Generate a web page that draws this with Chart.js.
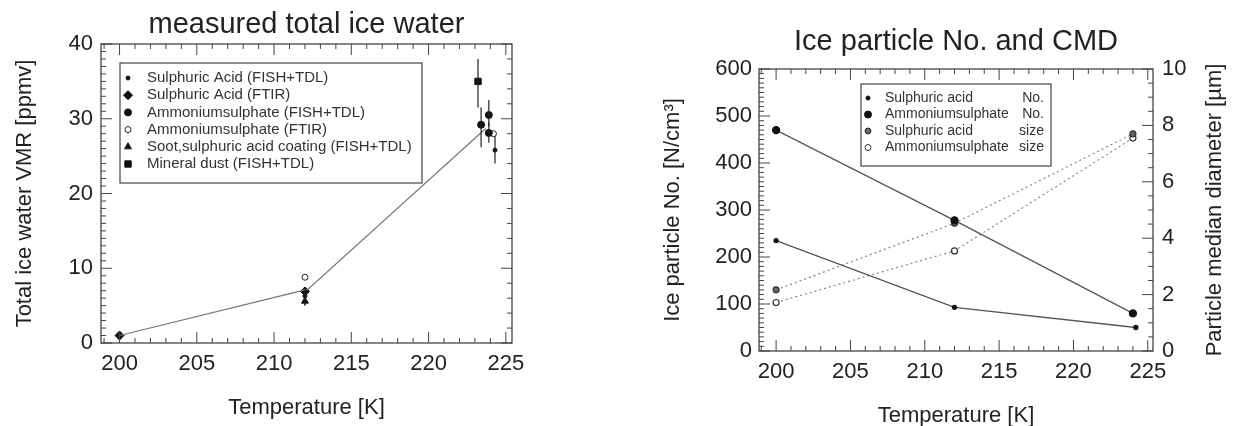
<!DOCTYPE html>
<html>
<head>
<meta charset="utf-8">
<script src="https://cdn.jsdelivr.net/npm/chart.js@4.4.1/dist/chart.umd.min.js"></script>
<style>
  html,body{margin:0;padding:0;background:#fff;}
  .pane{position:absolute;top:0;}
</style>
</head>
<body>
<div class="pane" style="left:0"><canvas id="ch-iwc" width="600" height="426"></canvas></div>
<div class="pane" style="left:600px"><canvas id="ch-num" width="651" height="426"></canvas></div>
<script>
// ===================== DATOS: agua total de hielo =====================
const tickT=[200,205,210,215,220,225];
const tickIwc=[0,10,20,30,40];

const fitT=[200,212.2,223.7];
const fitIwc=[1.0,7.2,28.7];

const saFishT=[200,212,224.3];
const saFishV=[0.8,6.3,25.8];
const saFishLo=[null,5.1,24.0];
const saFishHi=[null,7.4,27.7];

const saFtirT=[200,212];
const saFtirV=[1.0,6.9];

const asFishT=[223.4,223.9,223.9];
const asFishV=[29.2,30.5,28.1];
const asFishLo=[26.2,29.0,26.8];
const asFishHi=[31.5,32.5,29.5];

const asFtirT=[212,224.2];
const asFtirV=[8.8,28.0];

const sootT=[212];
const sootV=[5.6];
const sootLo=[5.0];
const sootHi=[6.4];

const dustT=[223.2];
const dustV=[35.0];
const dustLo=[31.5];
const dustHi=[38.0];

// ===================== DATOS: número y CMD =====================
const tickNo=[0,100,200,300,400,500,600];
const tickCmd=[0,2,4,6,8,10];

const saNoT=[200,212,224.2];
const saNo=[235,93,50];
const asNoT=[200,212,224];
const asNo=[470,278,80];
const sizeT=[200,212,224];
const saSize=[2.17,4.53,7.7];
const asSize=[1.72,3.55,7.55];

const pts=(xs,ys)=>xs.map((x,i)=>({x,y:ys[i]}));

const FAM='"Liberation Sans", Arial, Helvetica, sans-serif';
Chart.defaults.font.family=FAM;
Chart.defaults.color='#222';

// ── título centrado sobre el área del gráfico ──
const topTitle={
  id:'topTitle',
  afterDraw(chart,args,o){
    const {ctx,chartArea:a}=chart;
    ctx.save();
    ctx.font=o.size+'px '+FAM;
    ctx.fillStyle='#222'; ctx.textAlign='center'; ctx.textBaseline='alphabetic';
    ctx.fillText(o.text,(a.left+a.right)/2,o.base);
    ctx.restore();
  }
};

// ── marco con marcas hacia dentro en los cuatro lados ──
const axisFrame={
  id:'axisFrame',
  afterDraw(chart,args,o){
    const {ctx,chartArea:a}=chart;
    ctx.save();
    ctx.strokeStyle='#444'; ctx.lineWidth=1.3;
    ctx.strokeRect(a.left,a.top,a.width,a.height);
    ctx.lineWidth=1;
    o.sides.forEach(sd=>{
      const sc=chart.scales[sd.scale];
      const i0=Math.ceil(sc.min/sd.minor-1e-6), i1=Math.floor(sc.max/sd.minor+1e-6);
      for(let i=i0;i<=i1;i++){
        const v=i*sd.minor;
        const big=sd.major.some(m=>Math.abs(m-v)<1e-6);
        const len=big?11:5;
        const p=sc.getPixelForValue(v);
        ctx.beginPath();
        if(sd.side==='bottom'){ctx.moveTo(p,a.bottom);ctx.lineTo(p,a.bottom-len);}
        else if(sd.side==='top'){ctx.moveTo(p,a.top);ctx.lineTo(p,a.top+len);}
        else if(sd.side==='left'){ctx.moveTo(a.left,p);ctx.lineTo(a.left+len,p);}
        else {ctx.moveTo(a.right,p);ctx.lineTo(a.right-len,p);}
        ctx.stroke();
      }
    });
    ctx.restore();
  }
};

// ── barras de error verticales ──
const errBars={
  id:'errBars',
  afterDatasetsDraw(chart){
    const ctx=chart.ctx;
    ctx.save();
    ctx.strokeStyle='#222'; ctx.lineWidth=1.2;
    chart.data.datasets.forEach((ds,di)=>{
      if(!ds.errLo) return;
      const meta=chart.getDatasetMeta(di);
      const ys=chart.scales[meta.yAxisID];
      ds.data.forEach((d,i)=>{
        if(ds.errLo[i]==null) return;
        const px=chart.scales.x.getPixelForValue(d.x);
        ctx.beginPath();
        ctx.moveTo(px,ys.getPixelForValue(ds.errLo[i]));
        ctx.lineTo(px,ys.getPixelForValue(ds.errHi[i]));
        ctx.stroke();
      });
    });
    ctx.restore();
  }
};

// ── leyenda dentro del área, con recuadro ──
const keyBox={
  id:'keyBox',
  afterDraw(chart,args,o){
    const ctx=chart.ctx;
    ctx.save();
    ctx.strokeStyle='#444'; ctx.lineWidth=1.2;
    ctx.strokeRect(o.box[0],o.box[1],o.box[2]-o.box[0],o.box[3]-o.box[1]);
    ctx.font=o.size+'px '+FAM;
    ctx.textBaseline='middle';
    let row=0;
    chart.data.datasets.forEach(ds=>{
      if(ds.noKey) return;
      const y=o.y0+row*o.dy;
      ctx.fillStyle=ds.backgroundColor; ctx.strokeStyle=ds.pointBorderColor||ds.borderColor; ctx.lineWidth=1;
      Chart.helpers.drawPoint(ctx,{pointStyle:ds.pointStyle,radius:ds.pointRadius,rotation:0,borderWidth:1},o.markX,y);
      ctx.fillStyle='#333';
      ctx.textAlign='left';
      ctx.fillText(ds.label,o.textX,y);
      if(ds.tag){ctx.textAlign='right';ctx.fillText(ds.tag,o.tagX,y);}
      row++;
    });
    ctx.restore();
  }
};

// ── título del eje derecho, leído de abajo hacia arriba ──
const sideTitle={
  id:'sideTitle',
  afterDraw(chart,args,o){
    if(!o.text) return;
    const {ctx,chartArea:a}=chart;
    ctx.save();
    ctx.translate(a.right+o.dx,(a.top+a.bottom)/2);
    ctx.rotate(-Math.PI/2);
    ctx.font=o.size+'px '+FAM;
    ctx.fillStyle='#222'; ctx.textAlign='center'; ctx.textBaseline='middle';
    ctx.fillText(o.text,0,0);
    ctx.restore();
  }
};

const tickFont={size:22};
const axisTitleFont={size:22};

// ===================== GRÁFICO 1 =====================
new Chart(document.getElementById('ch-iwc'),{
  type:'scatter',
  data:{datasets:[
    {label:'fit',noKey:true,data:pts(fitT,fitIwc),showLine:true,borderColor:'#777',borderWidth:1.2,pointRadius:0},
    {label:'Sulphuric Acid (FISH+TDL)',data:pts(saFishT,saFishV),errLo:saFishLo,errHi:saFishHi,pointStyle:'circle',pointRadius:2,backgroundColor:'#111',borderColor:'#111'},
    {label:'Sulphuric Acid (FTIR)',data:pts(saFtirT,saFtirV),pointStyle:'rectRot',pointRadius:4.5,backgroundColor:'#111',borderColor:'#111'},
    {label:'Ammoniumsulphate (FISH+TDL)',data:pts(asFishT,asFishV),errLo:asFishLo,errHi:asFishHi,pointStyle:'circle',pointRadius:3.5,backgroundColor:'#111',borderColor:'#111'},
    {label:'Ammoniumsulphate (FTIR)',data:pts(asFtirT,asFtirV),pointStyle:'circle',pointRadius:3,backgroundColor:'#fff',borderColor:'#222'},
    {label:'Soot,sulphuric acid coating (FISH+TDL)',data:pts(sootT,sootV),errLo:sootLo,errHi:sootHi,pointStyle:'triangle',pointRadius:4,backgroundColor:'#111',borderColor:'#111'},
    {label:'Mineral dust (FISH+TDL)',data:pts(dustT,dustV),errLo:dustLo,errHi:dustHi,pointStyle:'rect',pointRadius:4.5,backgroundColor:'#111',borderColor:'#111'}
  ]},
  options:{
    responsive:false,animation:false,
    layout:{padding:{left:0,right:88,top:44,bottom:0}},
    plugins:{
      legend:{display:false},tooltip:{enabled:false},title:{display:false},
      topTitle:{text:'measured total ice water',size:29,base:33},
      axisFrame:{sides:[
        {scale:'x',side:'bottom',major:tickT,minor:1},
        {scale:'x',side:'top',major:tickT,minor:1},
        {scale:'y',side:'left',major:tickIwc,minor:1},
        {scale:'y',side:'right',major:tickIwc,minor:2}
      ]},
      keyBox:{box:[120,63,422,183],y0:78,dy:17.2,markX:128,textX:147,size:15}
    },
    scales:{
      x:{type:'linear',min:198.8,max:225.4,
        afterFit:s=>{s.height=83;},
        afterBuildTicks:s=>{s.ticks=tickT.map(v=>({value:v}));},
        grid:{display:false,drawTicks:false},border:{display:false},
        ticks:{font:tickFont,padding:8,maxRotation:0},
        title:{display:true,text:'Temperature [K]',font:axisTitleFont,padding:{bottom:5}}},
      y:{type:'linear',min:0,max:40,
        afterFit:s=>{s.width=101;},
        afterBuildTicks:s=>{s.ticks=tickIwc.map(v=>({value:v}));},
        grid:{display:false,drawTicks:false},border:{display:false},
        ticks:{font:tickFont,padding:8},
        title:{display:true,text:'Total ice water VMR [ppmv]',font:axisTitleFont,padding:{top:12}}}
    }
  },
  plugins:[topTitle,axisFrame,errBars,keyBox]
});

// ===================== GRÁFICO 2 =====================
new Chart(document.getElementById('ch-num'),{
  type:'scatter',
  data:{datasets:[
    {label:'Sulphuric acid',tag:'No.',data:pts(saNoT,saNo),showLine:true,borderColor:'#555',borderWidth:1.3,pointStyle:'circle',pointRadius:2,backgroundColor:'#111',pointBorderColor:'#111',yAxisID:'y'},
    {label:'Ammoniumsulphate',tag:'No.',data:pts(asNoT,asNo),showLine:true,borderColor:'#555',borderWidth:1.3,pointStyle:'circle',pointRadius:3.5,backgroundColor:'#111',pointBorderColor:'#111',yAxisID:'y'},
    {label:'Sulphuric acid',tag:'size',data:pts(sizeT,saSize),showLine:true,borderColor:'#888',borderWidth:1.2,borderDash:[2,3],pointStyle:'circle',pointRadius:3,backgroundColor:'#666',pointBorderColor:'#333',yAxisID:'y2'},
    {label:'Ammoniumsulphate',tag:'size',data:pts(sizeT,asSize),showLine:true,borderColor:'#888',borderWidth:1.2,borderDash:[2,3],pointStyle:'circle',pointRadius:3,backgroundColor:'#fff',pointBorderColor:'#333',yAxisID:'y2'}
  ]},
  options:{
    responsive:false,animation:false,
    layout:{padding:{left:0,right:0,top:69,bottom:0}},
    plugins:{
      legend:{display:false},tooltip:{enabled:false},title:{display:false},
      topTitle:{text:'Ice particle No. and CMD',size:29,base:50},
      axisFrame:{sides:[
        {scale:'x',side:'bottom',major:tickT,minor:1},
        {scale:'x',side:'top',major:tickT,minor:1},
        {scale:'y',side:'left',major:tickNo,minor:10},
        {scale:'y2',side:'right',major:tickCmd,minor:0.5}
      ]},
      keyBox:{box:[261,84,451,166],y0:98,dy:16.5,markX:268,textX:285,tagX:444,size:14},
      sideTitle:{text:'Particle median diameter [µm]',dx:62,size:22}
    },
    scales:{
      x:{type:'linear',min:198.85,max:225.35,
        afterFit:s=>{s.height=75;},
        afterBuildTicks:s=>{s.ticks=tickT.map(v=>({value:v}));},
        grid:{display:false,drawTicks:false},border:{display:false},
        ticks:{font:tickFont,padding:8,maxRotation:0},
        title:{display:true,text:'Temperature [K]',font:axisTitleFont,padding:{bottom:-3}}},
      y:{type:'linear',position:'left',min:0,max:600,
        afterFit:s=>{s.width=159;},
        afterBuildTicks:s=>{s.ticks=tickNo.map(v=>({value:v}));},
        grid:{display:false,drawTicks:false},border:{display:false},
        ticks:{font:tickFont,padding:7},
        title:{display:true,text:'Ice particle No. [N/cm³]',font:axisTitleFont,padding:{top:60}}},
      y2:{type:'linear',position:'right',min:0,max:10,
        afterFit:s=>{s.width=98;},
        afterBuildTicks:s=>{s.ticks=tickCmd.map(v=>({value:v}));},
        grid:{display:false,drawTicks:false},border:{display:false},
        ticks:{font:tickFont,padding:9}}
    }
  },
  plugins:[topTitle,axisFrame,errBars,keyBox,sideTitle]
});
</script>
</body>
</html>
